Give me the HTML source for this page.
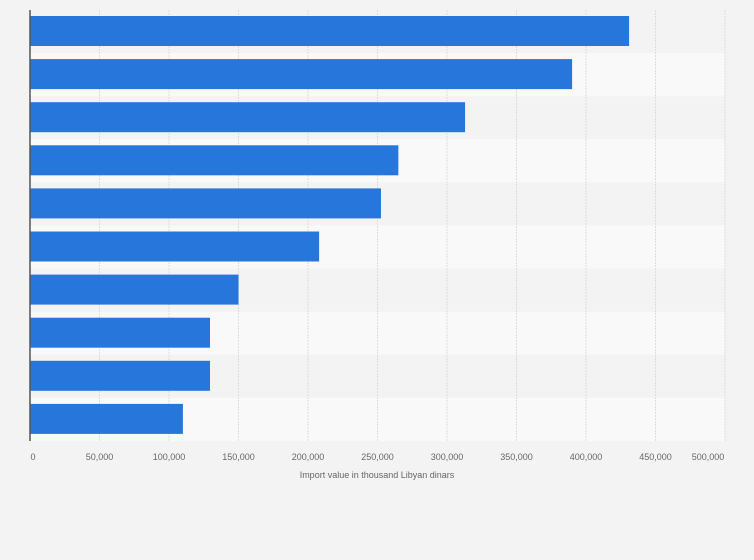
<!DOCTYPE html>
<html><head><meta charset="utf-8"><style>
body{margin:0;background:#f3f3f3;font-family:"Liberation Sans",sans-serif}
svg{display:block}
</style></head><body>
<svg width="754" height="560">
<g id="bands"></g><g id="grid"></g><g id="bars"></g><g id="ticks"></g>
<line x1="30" y1="10" x2="30" y2="441" stroke="#555" stroke-width="1.5"/>
<text x="377" y="478" font-size="9" fill="#666" text-anchor="middle">Import value in thousand Libyan dinars</text>
</svg>
<script>
const categories=["c1","c2","c3","c4","c5","c6","c7","c8","c9","c10"];
const values=[431000,390000,313000,265000,252500,208000,150000,129500,129500,110000];
const ticks=[0,50000,100000,150000,200000,250000,300000,350000,400000,450000,500000];
const tickLabels=["0","50,000","100,000","150,000","200,000","250,000","300,000","350,000","400,000","450,000","500,000"];
const NS="http://www.w3.org/2000/svg";
const x0=30,x1=725,plotTop=10,plotBot=441,maxV=500000;
const xs=v=>x0+(x1-x0)*v/maxV;
const bh=(plotBot-plotTop)/categories.length;
function mk(t,a,p){const e=document.createElementNS(NS,t);for(const k in a)e.setAttribute(k,a[k]);document.getElementById(p).appendChild(e);return e;}
categories.forEach((c,i)=>{
 const b=mk("rect",{x:x0,y:plotTop+i*bh,width:x1-x0,height:bh,fill:i%2?"#f9f9f9":"#f3f3f3"},"bands");
 
 
});
ticks.forEach((t,i)=>{
 if(i>0){const g=mk("line",{x1:xs(t),x2:xs(t),y1:plotTop,y2:plotBot,stroke:"#ddd","stroke-dasharray":"2,1"},"grid");
 
 }
 const l=mk("text",{x:i==0?xs(t)+3:xs(t)-(i==ticks.length-1?17:0),y:460,"font-size":"9",fill:"#666","text-anchor":"middle"},"ticks");
 l.textContent=tickLabels[i];
 
 
});
values.forEach((v,i)=>{
 const r=mk("rect",{x:x0,y:plotTop+i*bh+6,width:xs(v)-x0,height:30,fill:"#2776dc"},"bars");
 
 
});
</script>
</body></html>
